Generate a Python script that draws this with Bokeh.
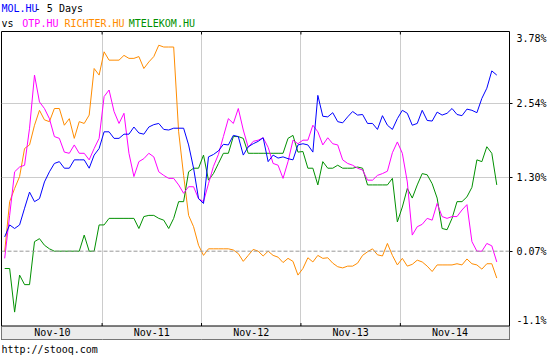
from bokeh.plotting import figure
from bokeh.models import Range1d, FixedTicker, Span
from bokeh.layouts import column
from bokeh.embed import file_html
from bokeh.resources import INLINE
from bokeh.core.properties import value

# ---- data (percent change vs. start of period) ----
days = ["Nov-10", "Nov-11", "Nov-12", "Nov-13", "Nov-14"]
# session time in days (20 samples per trading day)
t = [round(d + 0.02 + 0.05 * i, 2) for d in range(5) for i in range(20)]

mol = [0.31, 0.51, 0.45, 0.51, 0.79, 1.06, 0.90, 0.95, 1.23, 1.40, 1.54, 1.57, 1.46, 1.46, 1.60, 1.60, 1.60, 1.46, 1.68, 1.79,
       2.07, 2.07, 1.96, 1.96, 2.03, 2.03, 2.15, 2.05, 2.03, 2.15, 2.19, 2.21, 2.11, 2.10, 2.13, 2.13, 2.13, 1.85, 1.46, 0.95,
       0.87, 1.65, 1.69, 1.75, 1.86, 1.85, 2.01, 1.99, 1.68, 1.82, 1.87, 1.91, 1.97, 1.57, 1.68, 1.63, 1.65, 1.62, 1.60, 1.85,
       1.87, 1.85, 1.73, 2.68, 2.33, 2.32, 2.39, 2.24, 2.22, 2.32, 2.41, 2.35, 2.36, 2.21, 2.21, 2.11, 2.34, 2.18, 2.11, 2.29,
       2.43, 2.38, 2.18, 2.21, 2.43, 2.26, 2.25, 2.40, 2.35, 2.38, 2.46, 2.36, 2.34, 2.45, 2.43, 2.39, 2.63, 2.80, 3.09, 3.02]

otp = [-0.05, 0.67, 1.40, 1.48, 1.51, 2.13, 3.02, 2.57, 2.46, 2.29, 1.99, 1.96, 1.73, 1.71, 1.85, 1.71, 1.71, 1.60, 1.79, 1.96,
       2.66, 2.77, 2.41, 2.21, 2.38, 1.71, 1.32, 1.57, 1.62, 1.71, 1.65, 1.40, 1.34, 1.29, 1.29, 1.18, 1.04, 1.15, 1.15, 0.95,
       0.90, 1.20, 1.49, 1.69, 1.99, 2.29, 2.21, 2.46, 2.10, 1.81, 1.91, 1.93, 1.97, 1.81, 1.54, 1.51, 1.29, 1.57, 1.93, 1.87,
       1.93, 1.93, 2.18, 2.07, 1.85, 1.97, 1.87, 1.85, 1.60, 1.54, 1.51, 1.46, 1.43, 1.26, 1.26, 1.34, 1.37, 1.41, 1.72, 1.90,
       1.71, 1.23, 0.34, 0.48, 0.52, 0.62, 0.59, 0.87, 0.65, 0.62, 0.65, 0.65, 0.76, 0.85, 0.23, 0.07, 0.07, 0.20, 0.16, -0.11]

richter = [0.06, 0.90, 1.12, 1.32, 1.79, 1.85, 2.18, 2.43, 2.27, 2.24, 2.46, 2.46, 2.18, 2.29, 1.96, 2.24, 2.21, 2.35, 3.13, 3.02,
           3.41, 3.27, 3.27, 3.27, 3.35, 3.30, 3.30, 3.33, 3.13, 3.24, 3.33, 3.52, 3.49, 3.49, 3.49, 2.07, 1.34, 0.67, 0.48, 0.17,
           0.00, 0.11, 0.11, 0.11, 0.11, 0.11, 0.09, 0.03, -0.10, 0.00, 0.10, 0.07, -0.01, 0.07, 0.00, -0.03, -0.12, -0.05, -0.10, -0.33,
           -0.22, -0.04, -0.11, 0.00, -0.05, -0.04, -0.13, -0.19, -0.21, -0.18, -0.18, -0.13, 0.00, 0.06, 0.11, 0.01, -0.01, 0.20, 0.00, -0.16,
           -0.05, -0.18, -0.15, -0.08, -0.11, -0.18, -0.27, -0.16, -0.16, -0.16, -0.16, -0.14, -0.16, -0.06, -0.14, -0.16, -0.23, -0.14, -0.14, -0.38]

mtelekom = [-0.22, -0.22, -0.95, -0.33, -0.49, -0.49, 0.23, 0.28, 0.17, 0.11, 0.07, 0.07, 0.07, 0.07, 0.07, 0.07, 0.34, 0.07, 0.07, 0.51,
            0.51, 0.62, 0.62, 0.62, 0.62, 0.62, 0.62, 0.45, 0.65, 0.67, 0.67, 0.62, 0.59, 0.45, 0.62, 0.90, 0.90, 1.40, 1.46, 1.46,
            1.68, 1.26, 1.37, 1.54, 1.71, 1.71, 1.99, 1.99, 1.96, 1.71, 1.71, 1.71, 1.71, 1.71, 1.71, 1.71, 1.71, 1.96, 2.01, 1.73,
            1.74, 1.46, 1.46, 1.18, 1.57, 1.46, 1.46, 1.51, 1.46, 1.46, 1.46, 1.48, 1.46, 1.18, 1.18, 1.18, 1.18, 1.18, 1.29, 0.56,
            0.81, 1.12, 0.96, 1.18, 1.37, 1.35, 1.20, 0.96, 0.45, 0.43, 0.62, 0.90, 0.90, 0.98, 1.14, 1.60, 1.57, 1.82, 1.71, 1.18]

y_tick_values = [3.63, 2.54, 1.305, 0.07, -1.09]
y_tick_labels = ["3.78%", "2.54%", "1.30%", "0.07%", "-1.1%"]
grid_values = [2.54, 1.305]
base_value = 0.07
day_bounds = [1, 2, 3, 4]

title_main = "MOL.HU"
title_rest = " - 5 Days"
compare_prefix = "vs"
compare_names = ["OTP.HU", "RICHTER.HU", "MTELEKOM.HU"]
footer_text = "http://stooq.com"

# ---- styling ----
FONT = "DejaVu Sans Mono"
C_MOL, C_OTP, C_RIC, C_MTE = "#0000ff", "#ff00ff", "#ff8c00", "#009000"
Y_TOP, Y_AXIS_BOTTOM, Y_BAR_BOTTOM = 3.75, -1.183, -1.409
X_LEFT, X_RIGHT = -0.012, 5.098


def text_strip(height):
    f = figure(width=549, height=height, output_backend="svg", toolbar_location=None,
               x_range=Range1d(0, 549), y_range=Range1d(height, 0),
               x_axis_location=None, y_axis_location=None,
               min_border_left=0, min_border_right=0, min_border_top=0, min_border_bottom=0)
    f.outline_line_color = None
    f.grid.visible = False
    f.background_fill_color = "white"
    f.border_fill_color = "white"
    return f


# header
hdr = text_strip(30)
hdr.text(x=[0, 36], y=[8, 8], text=[title_main, title_rest], text_color=[C_MOL, "black"],
         text_font=value(FONT), text_font_size="10px", text_baseline="middle")
hdr.text(x=[0, 22.5, 68, 137.5], y=[23] * 4, text=[compare_prefix] + compare_names,
         text_color=["black", C_OTP, C_RIC, C_MTE],
         text_font=value(FONT), text_font_size="10px", text_baseline="middle")

# footer
ftr = text_strip(17)
ftr.text(x=[0], y=[9], text=[footer_text], text_color="black",
         text_font=value(FONT), text_font_size="10px", text_baseline="middle")

# main chart
p = figure(width=549, height=310, output_backend="svg", toolbar_location=None,
           x_range=Range1d(X_LEFT, X_RIGHT), y_range=Range1d(Y_BAR_BOTTOM, Y_TOP),
           x_axis_location=None, y_axis_location="right",
           min_border_left=1, min_border_right=38, min_border_top=1, min_border_bottom=1)
p.background_fill_color = "white"
p.border_fill_color = "white"
p.outline_line_color = "black"
p.outline_line_width = 1

p.xgrid.ticker = FixedTicker(ticks=day_bounds)
p.ygrid.ticker = FixedTicker(ticks=grid_values)
p.grid.grid_line_color = "#cccccc"
p.grid.grid_line_width = 1

ax = p.yaxis[0]
ax.ticker = FixedTicker(ticks=y_tick_values, minor_ticks=[base_value] + grid_values)
ax.major_label_overrides = {v: s for v, s in zip(y_tick_values, y_tick_labels)}
ax.axis_line_color = None
ax.major_tick_in = 0
ax.major_tick_out = 0
ax.minor_tick_in = 0
ax.minor_tick_out = 3
ax.minor_tick_line_color = "black"
ax.major_label_standoff = 4
ax.major_label_text_font = FONT
ax.major_label_text_font_size = "10px"
ax.major_label_text_color = "black"

p.add_layout(Span(location=base_value, dimension="width", line_color="#999999",
                  line_dash="4 2", line_width=1))

# series
p.line(t, richter, line_color=C_RIC, line_width=1)
p.line(t, mtelekom, line_color=C_MTE, line_width=1)
p.line(t, otp, line_color=C_OTP, line_width=1)
p.line(t, mol, line_color=C_MOL, line_width=1)

# day ticks on top border and bottom of chart area
n = len(day_bounds)
p.segment(x0=day_bounds, y0=[Y_TOP] * n, x1=day_bounds, y1=[Y_TOP - 0.05] * n, line_color="black")
p.segment(x0=day_bounds, y0=[Y_AXIS_BOTTOM] * n, x1=day_bounds, y1=[Y_AXIS_BOTTOM + 0.05] * n, line_color="black")

# date bar
p.quad(left=[X_LEFT - 1], right=[X_RIGHT + 1], top=[Y_AXIS_BOTTOM], bottom=[Y_BAR_BOTTOM - 1],
       fill_color="#ececec", line_color=None)
p.add_layout(Span(location=Y_AXIS_BOTTOM, dimension="width", line_color="black", line_width=1))
p.text(x=[i + 0.5 for i in range(len(days))], y=[(Y_AXIS_BOTTOM + Y_BAR_BOTTOM) / 2] * len(days),
       text=days, text_font=value(FONT), text_font_size="10px", text_align="center",
       text_baseline="middle", text_color="black")

layout = column(hdr, p, ftr, spacing=0)
open("out.html", "w").write(file_html(layout, INLINE))
